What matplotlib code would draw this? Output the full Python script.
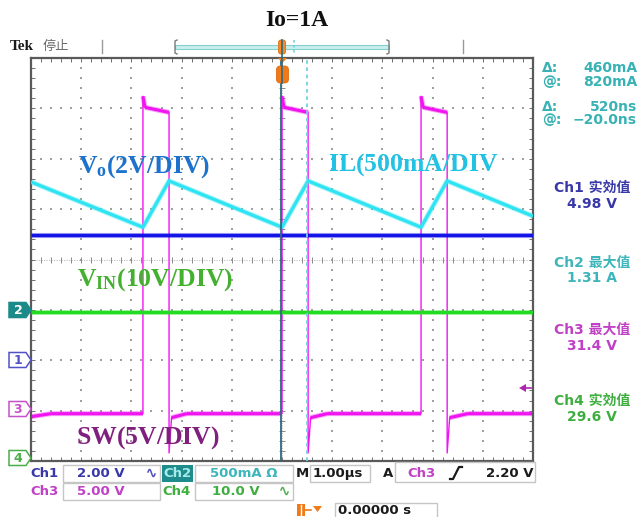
import numpy as np
import matplotlib
matplotlib.use("Agg")
import matplotlib.pyplot as plt
from matplotlib.patches import Polygon, Rectangle, FancyBboxPatch

# ---------------- channel settings ----------------
volts_per_div = {"ch1": 2.0, "ch2": 0.5, "ch3": 5.0, "ch4": 10.0}
ground_div = {"ch1": -2.0, "ch2": -1.0, "ch3": -3.0, "ch4": -4.0}

# time axis: 1.00 us/div, trigger at centre
# Ch1: output voltage Vo (V)
vo_t = [-5.0, 5.0]
vo_v = [4.98, 4.98]

# Ch2: inductor current IL (A), turning points of the ripple
il_t = [-5.0, -2.77, -2.25, 0.0, 0.52, 2.77, 3.29, 5.0]
il_a = [1.27, 0.82, 1.28, 0.82, 1.28, 0.82, 1.28, 0.93]

# Ch3: switch node SW (V)
sw_t = [-5.0, -4.6, -2.77, -2.77, -2.73, -2.25, -2.25, -2.20, -1.9,
        0.0, 0.0, 0.04, 0.52, 0.52, 0.57, 0.9,
        2.77, 2.77, 2.81, 3.29, 3.29, 3.34, 3.7, 5.0]
sw_v = [-0.6, -0.3, -0.3, 31.2, 30.1, 29.6, -4.2, -0.7, -0.3,
        -0.3, 31.2, 30.1, 29.6, -4.2, -0.7, -0.3,
        -0.3, 31.2, 30.1, 29.6, -4.2, -0.7, -0.3, -0.3]

# Ch4: input voltage VIN (V)
vin_t = [-5.0, 5.0]
vin_v = [29.6, 29.6]

# cursors
cursor_t = [-0.02, 0.50]

# readouts
cursor_text = [("Δ:", "460mA"), ("@:", "820mA"), ("Δ:", "520ns"), ("@:", "−20.0ns")]
meas_head = ["Ch1 实効值", "Ch2 最大值", "Ch3 最大值", "Ch4 实効值"]
meas_val = ["4.98 V", "1.31 A", "31.4 V", "29.6 V"]

# ---------------- colours ----------------
C1, C2, C3, C4 = "#1414e6", "#2ee4f2", "#f014f0", "#22dc22"
T1, T2, T3, T4 = "#3838a8", "#3cb6ba", "#c040c6", "#3eae3e"
CUR = "#38b2b4"

plt.rcParams["mathtext.fontset"] = "custom"
plt.rcParams["mathtext.rm"] = "Liberation Serif:bold"
plt.rcParams["mathtext.bf"] = "Liberation Serif:bold"
plt.rcParams["mathtext.it"] = "Liberation Serif:bold"
SANS = ["DejaVu Sans", "Noto Sans CJK SC"]

W, H = 641, 517
fig = plt.figure(figsize=(W / 100, H / 100), dpi=100)
fig.patch.set_facecolor("white")

SX0, SY0, SX1, SY1 = 31, 58, 533, 461
ax = fig.add_axes([SX0 / W, 1 - SY1 / H, (SX1 - SX0) / W, (SY1 - SY0) / H], zorder=1)
ax.set_xlim(-5, 5)
ax.set_ylim(-4, 4)
ax.set_facecolor("white")
for s in ax.spines.values():
    s.set_color("#5a5a5a")
    s.set_linewidth(1.6)
ax.set_xticks(np.arange(-5, 5.001, 0.2))
ax.set_yticks(np.arange(-4, 4.001, 0.2))
ax.tick_params(direction="in", top=True, right=True, length=3, width=0.7,
               color="#707070", labelbottom=False, labelleft=False)

# graticule dots
fine_x = np.arange(-5, 5.001, 0.2)
fine_y = np.arange(-4, 4.001, 0.2)
for gx in range(-4, 5):
    if gx != 0:
        ax.scatter(np.full_like(fine_y, gx), fine_y, s=1.8, marker="s",
                   color="#a0a0a0", linewidths=0, zorder=1)
for gy in range(-3, 4):
    if gy != 0:
        ax.scatter(fine_x, np.full_like(fine_x, gy), s=1.8, marker="s",
                   color="#a0a0a0", linewidths=0, zorder=1)
# centre cross with fine ticks
ax.axhline(0, color="#b8b8b8", lw=0.6, ls=(0, (1.5, 1.5)), zorder=1)
ax.axvline(0, color="#b8b8b8", lw=0.6, ls=(0, (1.5, 1.5)), zorder=1)
ax.plot(fine_x, np.zeros_like(fine_x), ls="none", marker="|", ms=4.5, mew=0.7,
        color="#8a8a8a", zorder=1)
ax.plot(np.zeros_like(fine_y), fine_y, ls="none", marker="_", ms=4.5, mew=0.7,
        color="#8a8a8a", zorder=1)


def to_div(ch, vals):
    return ground_div[ch] + np.asarray(vals, float) / volts_per_div[ch]


def fuzzy(x, y, color, lw_core, z):
    ax.plot(x, y, color=color, lw=lw_core + 1.4, alpha=0.4, zorder=z,
            solid_capstyle="butt")
    ax.plot(x, y, color=color, lw=lw_core, zorder=z + 0.1, solid_capstyle="butt")


# Ch3 switch node: thin edges, thick flat levels
swx = np.asarray(sw_t, float)
swy = to_div("ch3", sw_v)
ax.plot(swx, swy, color=C3, lw=1.0, zorder=2)
flat_x, flat_y = [], []
for i in range(len(swx) - 1):
    if abs(swy[i + 1] - swy[i]) < 0.3:
        flat_x += [swx[i], swx[i + 1], np.nan]
        flat_y += [swy[i], swy[i + 1], np.nan]
fuzzy(flat_x, flat_y, C3, 2.2, 2.2)

# Ch4, Ch1, Ch2
fuzzy(vin_t, to_div("ch4", vin_v), C4, 2.2, 3)
fuzzy(vo_t, to_div("ch1", vo_v), C1, 2.3, 4)
fuzzy(il_t, to_div("ch2", il_a), C2, 2.3, 5)

# cursors
ax.axvline(cursor_t[0], color="#2e6a80", lw=1.3, zorder=6)
ax.axvline(cursor_t[1], color="#6fd2e2", lw=1.3, ls=(0, (2, 2)), zorder=6)

# ---------------- overlay in pixel coordinates ----------------
ov = fig.add_axes([0, 0, 1, 1], zorder=2)
ov.set_xlim(0, W)
ov.set_ylim(H, 0)
ov.axis("off")

ov.text(297, 21, "Io=1A", fontsize=17, family="Liberation Serif", weight="bold",
        ha="center", va="center", color="#101010")

# top status line
ov.text(10, 46, "Tek", fontsize=11, family="Liberation Serif", weight="bold",
        ha="left", va="center", color="#1a1a1a")
ov.text(43, 46, "停止", fontsize=9.5, family=["Noto Sans CJK SC"],
        ha="left", va="center", color="#6a6a6a")
for tx in (102, 463):
    ov.plot([tx, tx], [40, 53], color="#9a9a9a", lw=1.0)
ov.add_patch(Rectangle((175, 45), 214, 3.5, facecolor="#c9eeee", edgecolor="#86cfcf", lw=0.8))
ov.plot([177, 175, 175, 177], [40, 41, 53, 54], color="#7a7a7a", lw=1.0)
ov.plot([387, 389, 389, 387], [40, 41, 53, 54], color="#7a7a7a", lw=1.0)
ov.plot([294, 294], [40, 54], color="#6fd2e2", lw=1.2, ls=(0, (1.5, 1.5)))
ov.add_patch(FancyBboxPatch((278.5, 40), 7, 14, boxstyle="round,pad=0,rounding_size=2.5",
                            facecolor="#f28a2e", edgecolor="#e07010", lw=0.6))
ov.add_patch(Polygon([[278, 58], [287, 58], [282.5, 63]], closed=True,
                     facecolor="#f07a18", edgecolor="none"))
ov.add_patch(FancyBboxPatch((276.5, 66), 12, 17, boxstyle="round,pad=0,rounding_size=4",
                            facecolor="#f07a18", edgecolor="#e06a10", lw=0.6))
ov.plot([282, 282], [40, 83], color="#2e6a80", lw=1.2)

# trigger level arrow
ov.add_patch(Polygon([[519, 388], [526, 384], [526, 392]], closed=True,
                     facecolor="#b024b0", edgecolor="none"))
ov.plot([526, 531], [388, 388], color="#b024b0", lw=1.2)


# channel ground markers
def marker(yc, num, edge, face, txt):
    pts = [[9, yc - 7.5], [26, yc - 7.5], [31, yc], [26, yc + 7.5], [9, yc + 7.5]]
    ov.add_patch(Polygon(pts, closed=True, facecolor=face, edgecolor=edge, lw=1.1, zorder=5))
    ov.text(18, yc + 0.5, num, fontsize=9, family="DejaVu Sans", weight="bold",
            ha="center", va="center", color=txt, zorder=6)


marker(310, "2", "#1d8a8a", "#1d8a8a", "white")
marker(360, "1", "#5252c8", "white", "#5252c8")
marker(409, "3", "#c452c8", "white", "#c452c8")
marker(458, "4", "#4aae4a", "white", "#4aae4a")

# cursor readouts
for (lab, val), yy in zip(cursor_text, [68, 82, 107, 120]):
    ov.text(542, yy, lab, fontsize=10, family=SANS, weight="bold",
            ha="left", va="center", color=CUR)
    ov.text(637, yy, val, fontsize=10, family=SANS, weight="bold",
            ha="right", va="center", color=CUR)

# measurement readouts
for head, val, col, (y1, y2) in zip(meas_head, meas_val, [T1, T2, T3, T4],
                                    [(188, 204), (263, 278), (330, 346), (401, 417)]):
    ov.text(592, y1, head, fontsize=10, family=SANS, weight="bold",
            ha="center", va="center", color=col)
    ov.text(592, y2, val, fontsize=10, family=SANS, weight="bold",
            ha="center", va="center", color=col)

# trace labels
ov.text(78, 167, r"$\mathrm{V_o(2V/DIV)}$", fontsize=18.5, ha="left", va="center", color="#1c72cc")
ov.text(328, 165, r"$\mathrm{IL(500mA/DIV}$", fontsize=18.5, ha="left", va="center", color="#22c2e4")
ov.text(77, 280, r"$\mathrm{V_{IN}(10V/DIV)}$", fontsize=18.5, ha="left", va="center", color="#44b030")
ov.text(76, 438, r"$\mathrm{SW(5V/DIV)}$", fontsize=18.5, ha="left", va="center", color="#80207e")

# bottom settings bar
BOX = "#c6c6c6"
FS = 9.5


def box(x0, y0, x1, y1):
    ov.add_patch(Rectangle((x0, y0), x1 - x0, y1 - y0, facecolor="none", edgecolor=BOX, lw=1.0))


def txt(x, y, s, col, ha="left"):
    ov.text(x, y, s, fontsize=FS, family=SANS, weight="bold", ha=ha, va="center", color=col)


def wave(x0, y0, col):
    u = np.linspace(0, 1, 30)
    ov.plot(x0 + 7 * u, y0 - 3 * np.sin(2 * np.pi * u) + 2 * (u - 0.5), color=col, lw=1.1)


box(63, 465, 160, 482)
box(195, 465, 293, 482)
box(310, 465, 370, 482)
box(395, 462, 535, 482)
box(63, 483, 160, 500)
box(195, 483, 293, 500)
box(335, 503, 437, 520)

txt(30, 473.5, "Ch1", T1)
txt(77, 473.5, "2.00 V", T1)
wave(148, 473, "#5050c0")
ov.add_patch(Rectangle((162, 465), 31, 17, facecolor="#1e8c8c", edgecolor="none"))
txt(177.5, 473.5, "Ch2", "#a6ecec", ha="center")
txt(210, 473.5, "500mA Ω", T2)
txt(296, 473.5, "M", "#1a1a1a")
txt(313, 473.5, "1.00µs", "#1a1a1a")
txt(383, 473.5, "A", "#1a1a1a")
txt(407, 473.5, "Ch3", T3)
ov.plot([450, 453, 459, 462], [479, 479, 467, 467], color="#1a1a1a", lw=1.6)
txt(533, 473.5, "2.20 V", "#1a1a1a", ha="right")

txt(30, 491.5, "Ch3", T3)
txt(77, 491.5, "5.00 V", T3)
txt(162, 491.5, "Ch4", T4)
txt(212, 491.5, "10.0 V", T4)
wave(281, 491, "#50b050")

# trigger position readout
ov.add_patch(Rectangle((297, 504), 8, 12, facecolor="#f07a18", edgecolor="none"))
ov.plot([300.5, 300.5], [505, 515], color="white", lw=1.0)
ov.plot([305, 311], [510, 510], color="#f07a18", lw=1.2)
ov.add_patch(Polygon([[313, 506], [322, 506], [317.5, 512]], closed=True,
                     facecolor="#f07a18", edgecolor="none"))
txt(338, 511, "0.00000 s", "#1a1a1a")

fig.savefig("out.png", dpi=100, facecolor="white")
